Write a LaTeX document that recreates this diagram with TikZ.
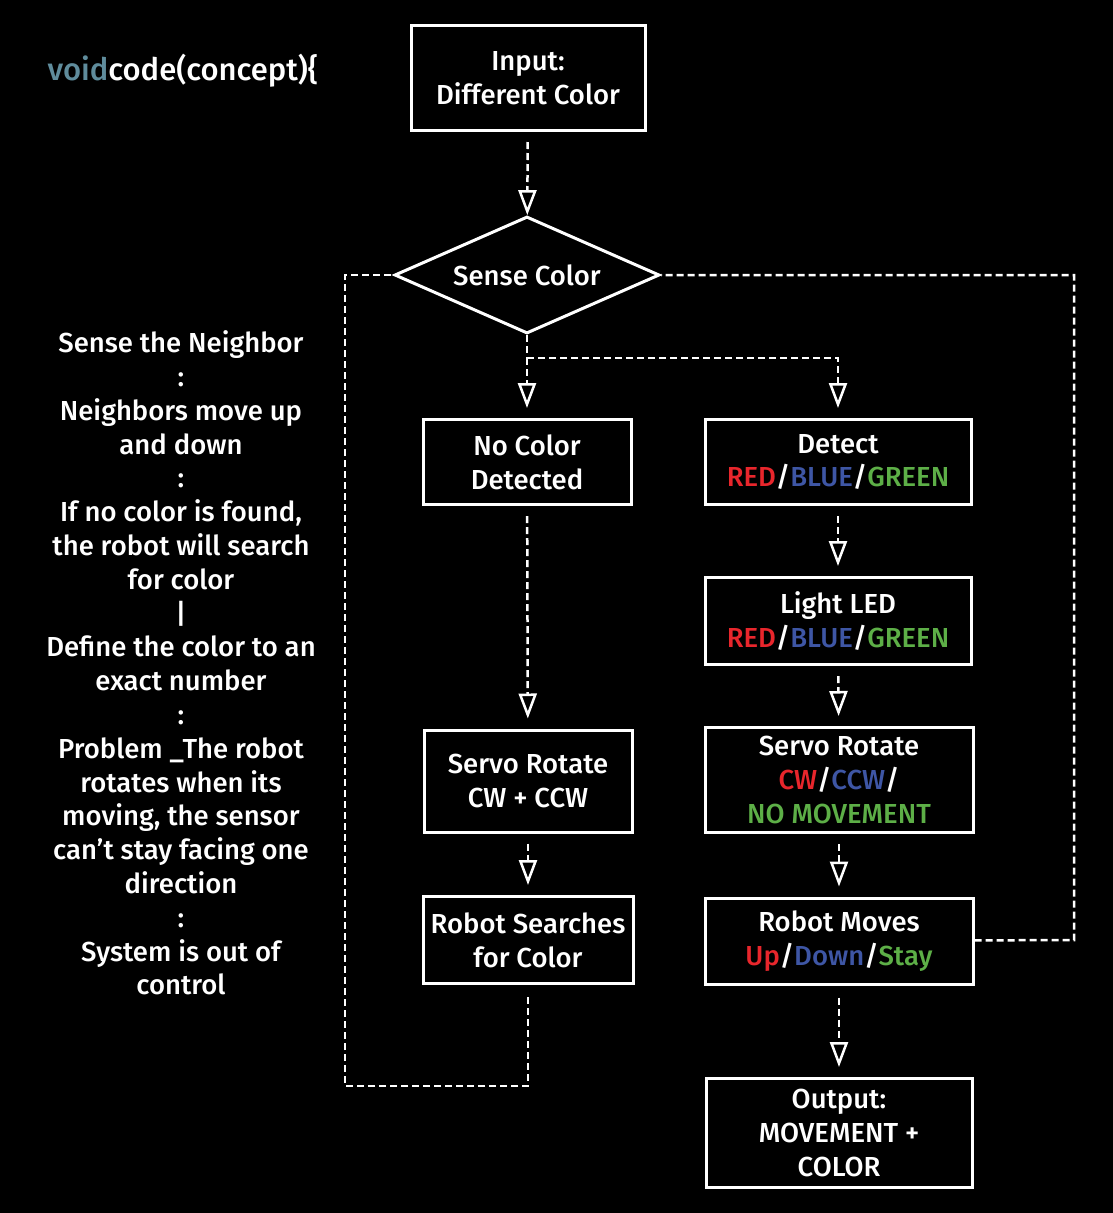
\documentclass[tikz,border=0pt]{standalone}
\usepackage{fontspec}
\setmainfont{Fira Sans}[UprightFont={* Medium}]
\usetikzlibrary{positioning, shapes.geometric, arrows.meta}
\definecolor{ledred}{HTML}{E8262C}
\definecolor{ledblue}{HTML}{3E56A5}
\definecolor{ledgreen}{HTML}{5DAF47}
\definecolor{voidgray}{HTML}{5F8C9C}
\newcommand{\rd}[1]{\textcolor{ledred}{#1}}
\newcommand{\bl}[1]{\textcolor{ledblue}{#1}}
\newcommand{\gr}[1]{\textcolor{ledgreen}{#1}}
\tikzset{
  stepbox/.style={draw=white, line width=3pt, fill=black, align=center, inner sep=0pt},
  link/.style={white, line width=2.5pt, dash pattern=on 7pt off 4pt},
  flow/.style={link, -{Triangle[open, length=25pt, width=18pt, line width=2.5pt]}},
}
\begin{document}
\begin{tikzpicture}[x=1pt, y=-1pt, text=white, font=\fontsize{27.5}{33.8}\selectfont]
\fill[black] (0,0) rectangle (1113,1213);
\useasboundingbox (0,0) rectangle (1113,1213);

\node[anchor=west, font=\fontsize{31}{36}\selectfont] (title) at (44,71) {\textcolor{voidgray}{void}code(concept)\{};
\node[align=center] (notes) at (181,663) {Sense the Neighbor\\:\\Neighbors move up\\and down\\:\\If no color is found,\\the robot will search\\for color\\|\\Define the color to an\\exact number\\:\\Problem \_The robot\\rotates when its\\moving, the sensor\\can’t stay facing one\\direction\\:\\System is out of\\control};

% main column
\node[stepbox, minimum width=234pt, minimum height=105pt] (input) at (528,78) {Input:\\Different Color};
\node[draw=white, line width=3pt, diamond, aspect=2.26, minimum width=265pt, minimum height=117pt, inner sep=0pt] (sense) at (527,275) {Sense Color};

% left branch
\node[stepbox, minimum width=208pt, minimum height=85pt] (nocolor) at (527,462) {No Color\\Detected};
\node[stepbox, minimum width=208pt, minimum height=102pt] (servoleft) at (528,781) {Servo Rotate\\CW + CCW};
\node[stepbox, minimum width=210pt, minimum height=87pt] (search) at (528,940) {Robot Searches\\for Color};

% right branch
\node[stepbox, minimum width=266pt, minimum height=85pt] (detect) at (838,462) {Detect\\\rd{RED}/\bl{BLUE}/\gr{GREEN}};
\node[stepbox, minimum width=266pt, minimum height=87pt] (led) at (838,621) {Light LED\\\rd{RED}/\bl{BLUE}/\gr{GREEN}};
\node[stepbox, minimum width=268pt, minimum height=105pt] (servoright) at (839,780) {Servo Rotate\\\rd{CW}/\bl{CCW}/\\\gr{NO MOVEMENT}};
\node[stepbox, minimum width=268pt, minimum height=86pt] (moves) at (839,941) {Robot Moves\\\rd{Up}/\bl{Down}/\gr{Stay}};
\node[stepbox, minimum width=266pt, minimum height=109pt] (output) at (839,1133) {Output:\\MOVEMENT +\\COLOR};

\coordinate (split) at (527,358);
\coordinate (lowcorner) at (345,1086);
\coordinate (rightcorner) at (1074,940);

\draw[flow, shorten <=10pt] (input) -- (sense);
\draw[link] (sense) -- (split);
\draw[flow, shorten >=10pt] (split) -- (nocolor);
\draw[flow, shorten >=10pt] (split) -| (detect);
\draw[flow, shorten <=10pt, shorten >=10pt] (nocolor) -- (servoleft);
\draw[flow, shorten <=10pt, shorten >=10pt] (servoleft) -- (search);
\draw[flow, shorten <=10pt, shorten >=10pt] (detect) -- (led);
\draw[flow, shorten <=10pt, shorten >=10pt] (led) -- (servoright);
\draw[flow, shorten <=10pt, shorten >=10pt] (servoright) -- (moves);
\draw[flow, shorten <=12pt, shorten >=10pt] (moves) -- (output);

% feedback loops
\draw[link, shorten <=12pt] (search) |- (lowcorner) |- (sense);
\draw[link] (moves) -- (rightcorner) |- (sense);

\end{tikzpicture}
\end{document}
